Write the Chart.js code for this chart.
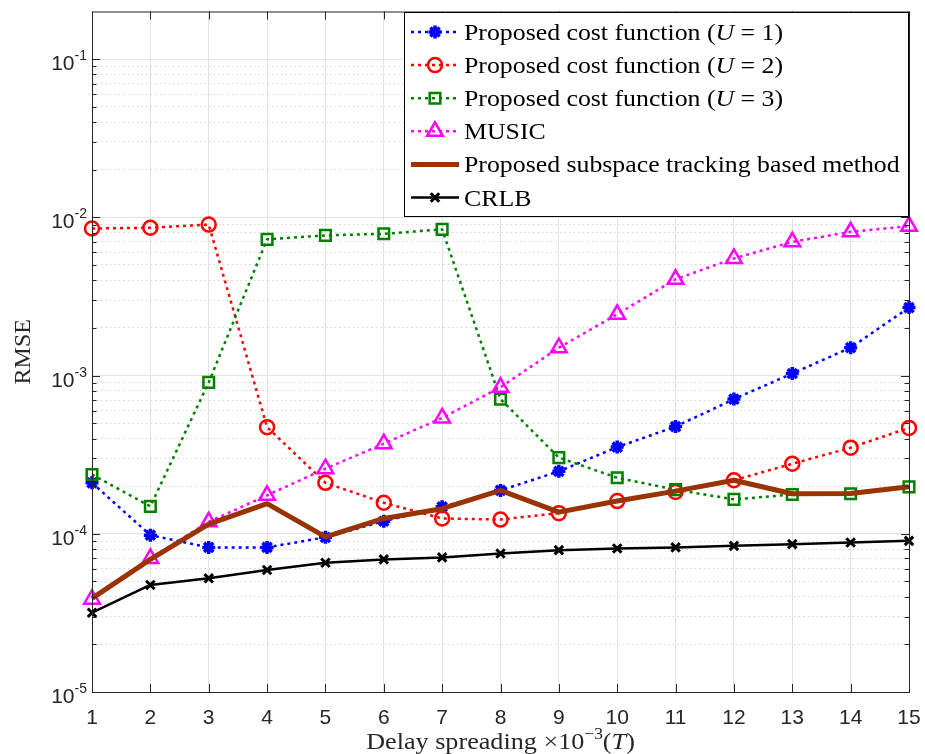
<!DOCTYPE html>
<html>
<head>
<meta charset="utf-8">
<script src="https://cdn.jsdelivr.net/npm/chart.js@4.4.1/dist/chart.umd.min.js"></script>
<style>
    html, body { margin: 0; padding: 0; background: #fff; }
    #wrap { width: 925px; height: 754px; }
</style>
</head>
<body>
<div id="wrap"><canvas id="rmseChart"></canvas></div>
<script>
// Delay spreading (x 10^-3 T)
const delaySpread = [1, 2, 3, 4, 5, 6, 7, 8, 9, 10, 11, 12, 13, 14, 15];

// RMSE values
const rmseU1 = [2.1e-4, 9.8e-5, 8.2e-5, 8.2e-5, 9.5e-5, 1.2e-4, 1.48e-4, 1.88e-4, 2.48e-4, 3.53e-4, 4.76e-4, 7.1e-4, 1.03e-3, 1.5e-3, 2.69e-3];
const rmseU2 = [8.5e-3, 8.6e-3, 9.0e-3, 4.72e-4, 2.1e-4, 1.57e-4, 1.25e-4, 1.23e-4, 1.35e-4, 1.61e-4, 1.84e-4, 2.18e-4, 2.77e-4, 3.5e-4, 4.67e-4];
const rmseU3 = [2.37e-4, 1.49e-4, 9.06e-4, 7.26e-3, 7.69e-3, 7.87e-3, 8.39e-3, 7.1e-4, 3.03e-4, 2.26e-4, 1.9e-4, 1.65e-4, 1.77e-4, 1.79e-4, 1.98e-4];
const rmseMusic = [3.86e-5, 6.99e-5, 1.19e-4, 1.75e-4, 2.58e-4, 3.71e-4, 5.4e-4, 8.43e-4, 1.5e-3, 2.44e-3, 4.06e-3, 5.5e-3, 7.0e-3, 8.1e-3, 8.8e-3];
const rmseTracking = [3.91e-5, 6.89e-5, 1.15e-4, 1.55e-4, 9.56e-5, 1.25e-4, 1.44e-4, 1.88e-4, 1.37e-4, 1.61e-4, 1.86e-4, 2.18e-4, 1.79e-4, 1.8e-4, 1.98e-4];
const rmseCrlb = [3.17e-5, 4.75e-5, 5.23e-5, 5.9e-5, 6.56e-5, 6.89e-5, 7.09e-5, 7.51e-5, 7.88e-5, 8.08e-5, 8.2e-5, 8.39e-5, 8.6e-5, 8.81e-5, 9.02e-5];

const seriesLabels = [
    'Proposed cost function (U = 1)',
    'Proposed cost function (U = 2)',
    'Proposed cost function (U = 3)',
    'MUSIC',
    'Proposed subspace tracking based method',
    'CRLB'
];

// y axis ticks
const yMin = 1e-5;
const yMax = 0.2;
const yDecades = [1e-5, 1e-4, 1e-3, 1e-2, 1e-1];
const yMinorTicks = [];
yDecades.forEach(d => {
    for (let k = 2; k <= 9; k++) {
        if (k * d < yMax) yMinorTicks.push(k * d);
    }
});

const serif = '"Liberation Serif", "DejaVu Serif", serif';
const sans = '"Liberation Sans", Arial, sans-serif';
const textColor = '#262626';
const serifStretch = 1.075; // latex font is a bit wider than Times

// styles per series (same order as seriesLabels)
const seriesStyles = [
    { color: '#0000ff', width: 2.5, dash: [3, 4], point: 'star', radius: 6.5, pointWidth: 3.5 },
    { color: '#ff0000', width: 2.5, dash: [3, 4], point: 'circle', radius: 7, pointWidth: 2.5 },
    { color: '#008000', width: 2.5, dash: [3, 4], point: 'rect', radius: 7.5, pointWidth: 2.5 },
    { color: '#ff00ff', width: 2.5, dash: [3, 4], point: 'triangle', radius: 9, pointWidth: 2.5 },
    { color: '#993300', width: 5, dash: [], point: false, radius: 0, pointWidth: 0 },
    { color: '#000000', width: 2.5, dash: [], point: 'crossRot', radius: 6, pointWidth: 3 }
];

const seriesData = [rmseU1, rmseU2, rmseU3, rmseMusic, rmseTracking, rmseCrlb];

const datasets = seriesData.map((vals, i) => {
    const s = seriesStyles[i];
    return {
        label: seriesLabels[i],
        data: delaySpread.map((x, j) => ({ x: x, y: vals[j] })),
        borderColor: s.color,
        borderWidth: s.width,
        borderDash: s.dash,
        borderJoinStyle: 'round',
        pointStyle: s.point,
        pointRadius: s.radius,
        pointBorderWidth: s.pointWidth,
        pointBorderColor: s.color,
        pointBackgroundColor: 'rgba(0,0,0,0)',
        tension: 0,
        clip: false,
        order: 10 - i   // later series on top, like in matlab
    };
});

// draws a list of text pieces side by side, stretched a bit horizontally
function drawPieces(ctx, pieces, x, y, stretch) {
    ctx.save();
    ctx.translate(x, y);
    ctx.scale(stretch, 1);
    let cx = 0;
    pieces.forEach(p => {
        ctx.font = p.f;
        ctx.fillText(p.t, cx, p.dy || 0);
        cx += ctx.measureText(p.t).width;
    });
    ctx.restore();
}

function piecesWidth(ctx, pieces, stretch) {
    let w = 0;
    pieces.forEach(p => { ctx.font = p.f; w += ctx.measureText(p.t).width; });
    return w * stretch;
}

// the math variable U goes in italic
function labelPieces(text, size) {
    return text.split(/(\bU\b)/).filter(p => p.length).map(p => ({
        t: p,
        f: (p === 'U' ? 'italic ' : '') + size + 'px ' + serif
    }));
}

function drawMarker(ctx, s, x, y) {
    if (!s.point) return;
    ctx.save();
    ctx.setLineDash([]);
    ctx.strokeStyle = s.color;
    ctx.fillStyle = 'rgba(0,0,0,0)';
    ctx.lineWidth = s.pointWidth;
    Chart.helpers.drawPoint(ctx, { pointStyle: s.point, radius: s.radius, rotation: 0, borderWidth: s.pointWidth }, x, y);
    ctx.restore();
}

const axisDecor = {
    id: 'axisDecor',
    afterDatasetsDraw(chart) {
        const { ctx, chartArea: a, scales } = chart;
        const xs = scales.x, ys = scales.y;
        ctx.save();

        // box + inward ticks
        ctx.strokeStyle = textColor;
        ctx.lineWidth = 1;
        ctx.setLineDash([]);
        ctx.strokeRect(a.left + 0.5, a.top + 0.5, a.right - a.left, a.bottom - a.top);
        ctx.beginPath();
        delaySpread.forEach(v => {
            const px = Math.round(xs.getPixelForValue(v)) + 0.5;
            ctx.moveTo(px, a.bottom); ctx.lineTo(px, a.bottom - 8);
            ctx.moveTo(px, a.top); ctx.lineTo(px, a.top + 8);
        });
        yDecades.forEach(v => {
            const py = Math.round(ys.getPixelForValue(v)) + 0.5;
            ctx.moveTo(a.left, py); ctx.lineTo(a.left + 8, py);
            ctx.moveTo(a.right, py); ctx.lineTo(a.right - 8, py);
        });
        yMinorTicks.forEach(v => {
            const py = Math.round(ys.getPixelForValue(v)) + 0.5;
            ctx.moveTo(a.left, py); ctx.lineTo(a.left + 4.5, py);
            ctx.moveTo(a.right, py); ctx.lineTo(a.right - 4.5, py);
        });
        ctx.stroke();

        // x tick labels
        ctx.fillStyle = textColor;
        ctx.font = '21px ' + sans;
        ctx.textAlign = 'center';
        ctx.textBaseline = 'alphabetic';
        delaySpread.forEach(v => {
            ctx.fillText(String(v), xs.getPixelForValue(v), a.bottom + 32);
        });

        // y tick labels 10^n
        yDecades.forEach(v => {
            const py = ys.getPixelForValue(v);
            const sup = String(Math.round(Math.log10(v)));
            ctx.font = '14px ' + sans;
            const supW = ctx.measureText(sup).width;
            const x0 = a.left - 5 - supW;
            ctx.textAlign = 'left';
            ctx.fillText(sup, x0, py + 1);
            ctx.font = '21px ' + sans;
            ctx.textAlign = 'right';
            ctx.fillText('10', x0, py + 11);
        });

        // y title
        ctx.save();
        ctx.translate(30, (a.top + a.bottom) / 2);
        ctx.rotate(-Math.PI / 2);
        ctx.font = '24px ' + serif;
        ctx.textAlign = 'center';
        ctx.fillStyle = textColor;
        ctx.fillText('RMSE', 0, 0);
        ctx.restore();

        // x title: Delay spreading ×10^{-3}(T)
        const xTitle = [
            { t: 'Delay spreading \u00d710', f: '24px ' + serif },
            { t: '\u22123', f: '16px ' + serif, dy: -10 },
            { t: '(', f: '24px ' + serif },
            { t: 'T', f: 'italic 24px ' + serif },
            { t: ')', f: '24px ' + serif }
        ];
        ctx.textAlign = 'left';
        ctx.fillStyle = textColor;
        const tw = piecesWidth(ctx, xTitle, 1.09);
        drawPieces(ctx, xTitle, (a.left + a.right) / 2 - tw / 2, 749, 1.09);

        // legend box
        const lx = 404, ly = 12, lw = a.right - lx, lh = 205;
        ctx.fillStyle = '#ffffff';
        ctx.fillRect(lx, ly, lw, lh);
        ctx.strokeStyle = '#000000';
        ctx.lineWidth = 1;
        ctx.strokeRect(lx + 0.5, ly + 0.5, lw - 1, lh - 1);

        seriesLabels.forEach((lab, i) => {
            const s = seriesStyles[i];
            const cy = 32 + i * 33.1;
            ctx.save();
            ctx.strokeStyle = s.color;
            ctx.lineWidth = s.width;
            ctx.setLineDash(s.dash);
            ctx.beginPath();
            ctx.moveTo(411, cy);
            ctx.lineTo(459, cy);
            ctx.stroke();
            ctx.restore();
            drawMarker(ctx, s, 435, cy);
            ctx.fillStyle = '#000000';
            ctx.textAlign = 'left';
            drawPieces(ctx, labelPieces(lab, 24), 464, cy + 8, serifStretch);
        });

        ctx.restore();
    }
};

new Chart(document.getElementById('rmseChart'), {
    type: 'line',
    data: { datasets: datasets },
    options: {
        responsive: true,
        maintainAspectRatio: false,
        animation: false,
        events: [],
        layout: { padding: { left: 92, right: 16, top: 9, bottom: 62 } },
        plugins: { legend: { display: false }, tooltip: { enabled: false } },
        scales: {
            x: {
                type: 'linear',
                min: 1,
                max: 15,
                afterBuildTicks: ax => { ax.ticks = delaySpread.map(v => ({ value: v })); },
                ticks: { display: false },
                grid: { color: '#e3e3e3', lineWidth: 1, drawTicks: false },
                border: { display: false }
            },
            yMinor: {
                type: 'logarithmic',
                position: 'left',
                min: yMin,
                max: yMax,
                afterBuildTicks: ax => { ax.ticks = yMinorTicks.map(v => ({ value: v })); },
                ticks: { display: false },
                grid: { color: '#d6d6d6', lineWidth: 1, drawTicks: false },
                border: { display: false, dash: [1.5, 3] }
            },
            y: {
                type: 'logarithmic',
                position: 'left',
                min: yMin,
                max: yMax,
                afterBuildTicks: ax => { ax.ticks = yDecades.map(v => ({ value: v })); },
                ticks: { display: false },
                grid: { color: '#e3e3e3', lineWidth: 1, drawTicks: false },
                border: { display: false }
            }
        }
    },
    plugins: [axisDecor]
});
</script>
</body>
</html>
